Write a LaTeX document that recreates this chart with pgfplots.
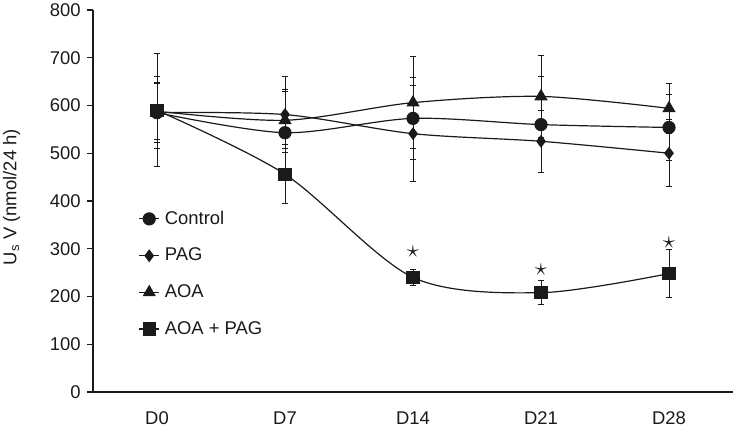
\documentclass[border=0pt]{standalone}
\usepackage{fontspec}
\setmainfont{Liberation Sans}
\usepackage{pgfplots}
\pgfplotsset{compat=1.18}
\pgfplotstableread{
x y ey
0 585 62
1 543 90
2 573 86
3 560 100
4 554 70
}\control
\pgfplotstableread{
x y ey
0 585 75
1 581 80
2 541 100
3 525 65
4 500 70
}\pag
\pgfplotstableread{
x y ey
0 588 60
1 569 60
2 606 97
3 619 86
4 594 52
}\aoa
\pgfplotstableread{
x y ey
0 590 118
1 456 62
2 240 17
3 208 25
4 248 50
}\aoapag
\definecolor{ink}{HTML}{1A1A1A}
\begin{document}
\fontsize{18.5}{22}\selectfont
\begin{tikzpicture}
\begin{axis}[
  scale only axis, width=640bp, height=382bp,
  xmin=-0.5, xmax=4.5, ymin=0, ymax=800,
  axis x line*=bottom, axis y line*=left,
  axis line style={-, line width=1.8bp, ink},
  xtick={0,1,2,3,4}, xticklabels={D0,D7,D14,D21,D28},
  major x tick style={draw=none},
  xticklabel style={yshift=-7bp},
  ytick={0,100,...,800},
  tick align=outside, major tick length=6bp,
  major y tick style={line width=1.2bp, ink},
  /pgf/number format/assume math mode=true,
  ticklabel style={font=\fontsize{18.5}{22}\selectfont, text=ink},
  ylabel={U\textsubscript{s} V (nmol/24 h)},
  ylabel style={at={(axis description cs:-0.127,0.51)}, anchor=center, font=\fontsize{18.5}{21}\selectfont, text=ink},
  every axis plot/.append style={smooth, draw=ink, line width=1.2bp, mark options={solid, fill=ink, draw=ink}},
  error bars/y dir=both, error bars/y explicit,
  error bars/error bar style={line width=0.9bp, ink},
  error bars/error mark options={rotate=90, mark size=3bp, line width=0.9bp, ink},
  legend style={draw=none, fill=none, inner sep=0pt, at={(axis description cs:0.071,0.48)}, anchor=north west, row sep=17bp, column sep=3bp, font=\fontsize{18.5}{22}\selectfont, text=ink},
  legend cell align=left,
  legend image code/.code={\draw[mark repeat=2, mark phase=2] plot coordinates {(0bp,0bp) (10bp,0bp) (20bp,0bp)};},
]
\addplot[mark=*, mark size=6bp] table[x=x, y=y, y error=ey] {\control};
\addlegendentry{Control}
\addplot[mark=diamond*, mark size=5.5bp] table[x=x, y=y, y error=ey] {\pag};
\addlegendentry{PAG}
\addplot[mark=triangle*, mark size=6.5bp] table[x=x, y=y, y error=ey] {\aoa};
\addlegendentry{AOA}
\addplot[mark=square*, mark size=6bp] table[x=x, y=y, y error=ey] {\aoapag};
\addlegendentry{AOA + PAG}
\node[text=ink, font=\fontsize{26}{28}\selectfont] at (axis cs:2,293) {$\star$};
\node[text=ink, font=\fontsize{26}{28}\selectfont] at (axis cs:3,255) {$\star$};
\node[text=ink, font=\fontsize{26}{28}\selectfont] at (axis cs:4,312) {$\star$};
\end{axis}
\pgfresetboundingbox
\useasboundingbox ([shift={(-93bp,-36bp)}]current axis.south west) rectangle ([shift={(0bp,10bp)}]current axis.north east);
\end{tikzpicture}
\end{document}
